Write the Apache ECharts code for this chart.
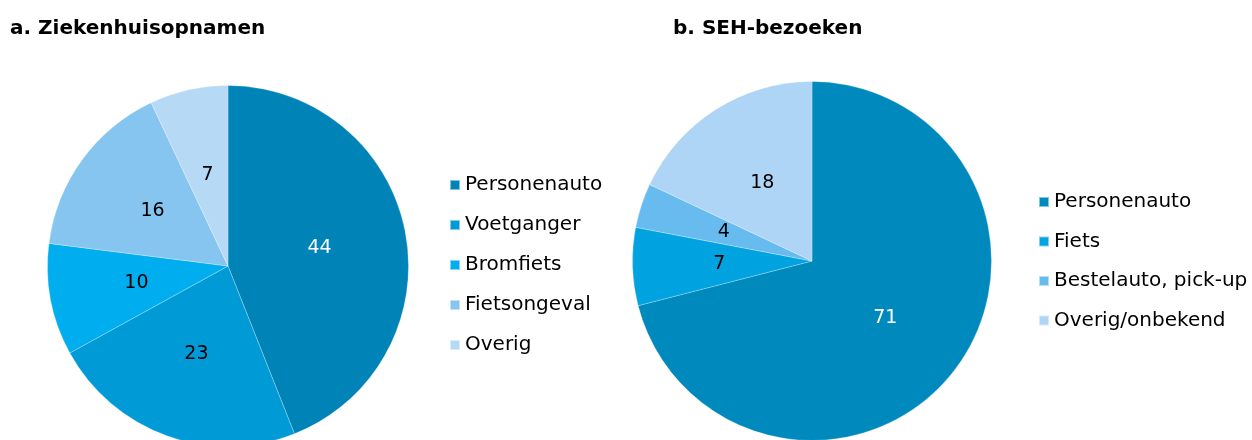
<!DOCTYPE html>
<html>
<head>
<meta charset="utf-8">
<script src="https://cdn.jsdelivr.net/npm/echarts@6/dist/echarts.min.js"></script>
<style>
  html, body { margin: 0; padding: 0; background: #fff; }
  #main { width: 1252px; height: 440px; }
</style>
</head>
<body>
<div id="main"></div>
<script>
// a. Ziekenhuisopnamen
const catsA = ["Personenauto", "Voetganger", "Bromfiets", "Fietsongeval", "Overig"];
const valsA = [44, 23, 10, 16, 7];
const colorsA = ["#0083b6", "#009bd6", "#00aeef", "#86c5f0", "#b6d9f5"];

// b. SEH-bezoeken
const catsB = ["Personenauto", "Fiets", "Bestelauto, pick-up", "Overig/onbekend"];
const valsB = [71, 7, 4, 18];
const colorsB = ["#0089bd", "#00a3e0", "#68bbef", "#aed5f5"];

const font = "DejaVu Sans";

function pieData(cats, vals, colors) {
  return cats.map((c, i) => ({
    name: c,
    value: vals[i],
    itemStyle: { color: colors[i] },
    label: { color: i === 0 ? "#ffffff" : "#000000" }
  }));
}

function legendData(cats, colors) {
  return cats.map((c, i) => ({ name: c, itemStyle: { color: colors[i] } }));
}

let option = {
  animation: false,
  title: [
    {
      // titel a
      text: "a. Ziekenhuisopnamen",
      left: 5, top: 14,
      textStyle: { fontFamily: font, fontSize: 20, fontWeight: "bold", color: "#000" }
    },
    {
      // titel b
      text: "b. SEH-bezoeken",
      left: 668, top: 14,
      textStyle: { fontFamily: font, fontSize: 20, fontWeight: "bold", color: "#000" }
    }
  ],
  legend: [
    {
      orient: "vertical",
      left: 449, top: 175,
      padding: 0,
      itemWidth: 10, itemHeight: 10, itemGap: 20,
      icon: "rect",
      selectedMode: false,
      textStyle: { fontFamily: font, fontSize: 20, color: "#000" },
      data: legendData(catsA, colorsA)
    },
    {
      orient: "vertical",
      left: 1038, top: 192,
      padding: 0,
      itemWidth: 10, itemHeight: 10, itemGap: 19.5,
      icon: "rect",
      selectedMode: false,
      textStyle: { fontFamily: font, fontSize: 20, color: "#000" },
      data: legendData(catsB, colorsB)
    }
  ],
  series: [
    {
      type: "pie",
      center: [228, 266],
      radius: [0, 180.5],
      startAngle: 90,
      clockwise: true,
      silent: true,
      itemStyle: { borderColor: "rgba(255,255,255,0.5)", borderWidth: 0.5 },
      label: { position: "inside", formatter: "{c}", fontFamily: font, fontSize: 19 },
      labelLine: { show: false },
      data: pieData(catsA, valsA, colorsA)
    },
    {
      type: "pie",
      center: [812, 261],
      radius: [0, 179.5],
      startAngle: 90,
      clockwise: true,
      silent: true,
      itemStyle: { borderColor: "rgba(255,255,255,0.5)", borderWidth: 0.5 },
      label: { position: "inside", formatter: "{c}", fontFamily: font, fontSize: 19 },
      labelLine: { show: false },
      data: pieData(catsB, valsB, colorsB)
    }
  ]
};

let chartDom = document.getElementById("main");
let myChart = echarts.init(chartDom);
myChart.setOption(option);
</script>
</body>
</html>
